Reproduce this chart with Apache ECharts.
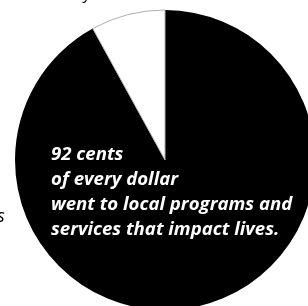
<!DOCTYPE html>
<html><head><meta charset="utf-8">
<script src="https://cdn.jsdelivr.net/npm/echarts@6/dist/echarts.min.js"></script>
<style>html,body{margin:0;padding:0;background:#fff}#c{width:308px;height:306px}</style>
</head><body><div id="c"></div>
<script>
const categories = ['Local programs and services', 'Other'];
const values = [92, 8];
const sliceColors = ['#000000', '#ffffff'];
const labelLines = ['92 cents', 'of every dollar', 'went to local programs and', 'services that impact lives.'];

const chart = echarts.init(document.getElementById('c'), null, {renderer: 'canvas'});
chart.setOption({
  animation: false,
  backgroundColor: '#ffffff',
  series: [{
    type: 'pie',
    center: [165, 160],
    radius: 150,
    startAngle: 90,
    clockwise: true,
    label: {show: false},
    labelLine: {show: false},
    emphasis: {disabled: true},
    data: categories.map((c, i) => ({
      name: c, value: values[i],
      itemStyle: {color: sliceColors[i], borderColor: i === 1 ? '#b0b0b0' : '#000', borderWidth: i === 1 ? 1 : 0}
    }))
  }],
  graphic: [
    {type: 'text', z: 100, left: 51, top: 142, style: {text: labelLines.join('\n'), fill: '#fff', font: 'italic bold 18.6px "Open Sans"', lineHeight: 25}},
    {type: 'text', z: 100, left: -3, top: 208, style: {text: 's', fill: '#000', font: 'italic 18px "Open Sans"'}},
    {type: 'text', z: 100, left: 84, top: -14, style: {text: 'y', fill: '#000', font: 'italic 16px "Open Sans"'}}
  ]
});
</script></body></html>
